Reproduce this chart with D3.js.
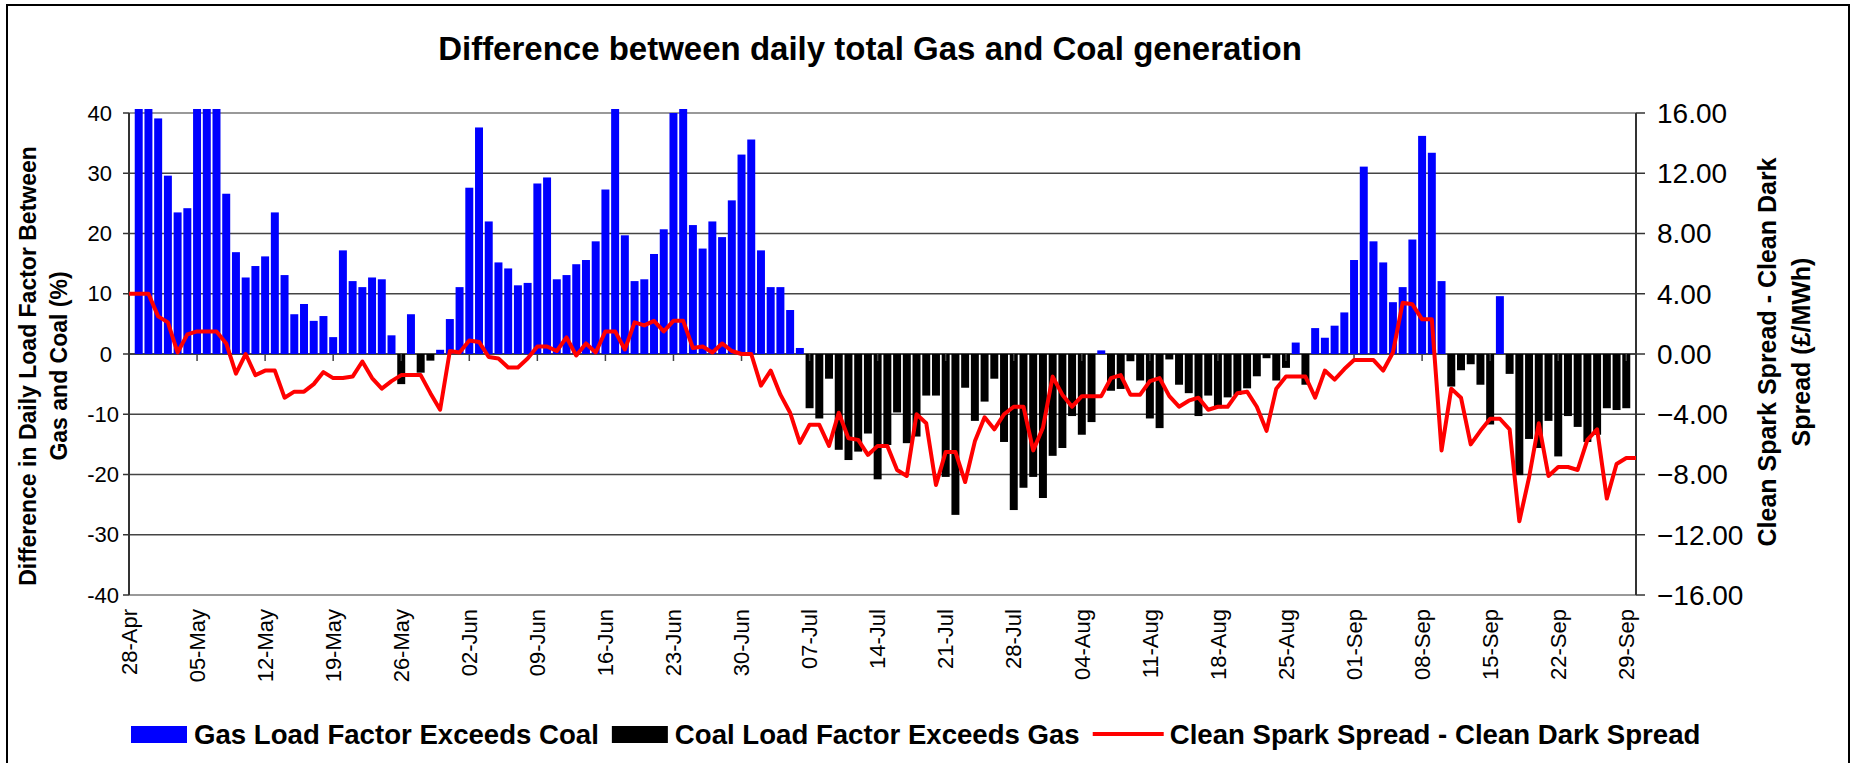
<!DOCTYPE html>
<html>
<head>
<meta charset="utf-8">
<script src="https://cdn.jsdelivr.net/npm/d3@7"></script>
<style>
  body { margin: 0; background: #fff; }
  svg { font-family: "Liberation Sans", Arial, sans-serif; }
</style>
</head>
<body>
<svg id="chart"></svg>
<script>
// tick labels along the date axis (one every 7 days)
const tickLabels = ["28-Apr", "05-May", "12-May", "19-May", "26-May", "02-Jun", "09-Jun",
    "16-Jun", "23-Jun", "30-Jun", "07-Jul", "14-Jul", "21-Jul", "28-Jul", "04-Aug",
    "11-Aug", "18-Aug", "25-Aug", "01-Sep", "08-Sep", "15-Sep", "22-Sep", "29-Sep"];

// gas load factor minus coal load factor (%), one value per day from 29-Apr to 29-Sep
const loadFactorDiff = [
    45, 45, 39.1, 29.6, 23.5, 24.2, 45, 45, 45, 26.6,
    16.9, 12.7, 14.6, 16.2, 23.5, 13.1, 6.6, 8.3, 5.5, 6.3,
    2.8, 17.2, 12.1, 11.1, 12.7, 12.4, 3.1, -5.0, 6.6, -3.1,
    -1.1, 0.7, 5.8, 11.1, 27.6, 37.6, 22.0, 15.2, 14.2, 11.4,
    11.8, 28.3, 29.3, 12.4, 13.1, 14.9, 15.6, 18.7, 27.3, 45,
    19.7, 12.1, 12.4, 16.6, 20.7, 40.0, 45, 21.4, 17.5, 22.0,
    19.4, 25.5, 33.1, 35.6, 17.2, 11.1, 11.1, 7.3, 1.0, -9.0,
    -10.7, -4.1, -15.9, -17.6, -16.2, -13.2, -20.8, -15.1, -9.7, -14.8,
    -13.7, -6.9, -6.9, -20.4, -26.7, -5.6, -11.1, -7.9, -4.1, -14.6,
    -25.9, -22.2, -20.4, -23.9, -16.9, -15.6, -10.3, -13.4, -11.3, 0.6,
    -6.1, -5.8, -1.2, -4.4, -10.7, -12.3, -0.9, -5.1, -6.5, -10.3,
    -6.9, -9.0, -7.2, -6.8, -5.7, -3.7, -0.7, -4.4, -2.3, 1.9,
    -5.1, 4.3, 2.7, 4.7, 6.9, 15.6, 31.1, 18.7, 15.2, 8.6,
    11.1, 19.0, 36.2, 33.4, 12.1, -5.4, -2.7, -1.7, -5.1, -11.7,
    9.6, -3.3, -20.1, -14.1, -15.6, -11.1, -17.0, -10.3, -12.1, -14.6,
    -13.4, -9.0, -9.3, -9.0
];

// clean spark spread minus clean dark spread (£/MWh), one value per day from 28-Apr to 30-Sep
const spreadDiff = [
    4.0, 4.0, 4.0, 2.5, 2.1, 0.1, 1.3, 1.5, 1.5, 1.5,
    0.7, -1.3, 0.0, -1.4, -1.1, -1.1, -2.9, -2.5, -2.5, -2.0,
    -1.2, -1.6, -1.6, -1.5, -0.5, -1.6, -2.3, -1.8, -1.4, -1.4,
    -1.4, -2.6, -3.7, 0.2, 0.1, 0.9, 0.8, -0.2, -0.3, -0.9,
    -0.9, -0.3, 0.5, 0.5, 0.2, 1.1, -0.1, 0.7, 0.1, 1.5,
    1.5, 0.3, 2.1, 1.9, 2.2, 1.5, 2.2, 2.2, 0.4, 0.5,
    0.1, 0.7, 0.2, 0.0, 0.0, -2.1, -1.1, -2.7, -3.9, -5.9,
    -4.7, -4.7, -6.1, -3.9, -5.6, -5.7, -6.7, -6.1, -6.1, -7.7,
    -8.1, -4.0, -4.6, -8.7, -6.5, -6.5, -8.5, -5.8, -4.2, -5.0,
    -4.0, -3.5, -3.5, -6.4, -4.9, -1.5, -2.7, -3.5, -2.8, -2.8,
    -2.8, -1.6, -1.4, -2.7, -2.7, -1.8, -1.6, -2.8, -3.5, -3.1,
    -2.9, -3.7, -3.5, -3.5, -2.6, -2.5, -3.5, -5.1, -2.3, -1.5,
    -1.5, -1.5, -2.9, -1.1, -1.7, -1.0, -0.4, -0.4, -0.4, -1.1,
    0.1, 3.4, 3.3, 2.3, 2.3, -6.4, -2.3, -2.9, -6.0, -5.1,
    -4.3, -4.3, -5.0, -11.1, -8.2, -4.6, -8.1, -7.5, -7.5, -7.7,
    -5.7, -5.0, -9.6, -7.3, -6.9, -6.9
];

const legendItems = ["Gas Load Factor Exceeds Coal", "Coal Load Factor Exceeds Gas",
    "Clean Spark Spread - Clean Dark Spread"];

const W = 1856, H = 763;
const plot = {left: 129, right: 1636, top: 113, bottom: 595};

const svg = d3.select("#chart")
    .attr("width", W)
    .attr("height", H);

// chart area frame
svg.append("rect")
    .attr("x", 7).attr("y", 5)
    .attr("width", 1842).attr("height", 780)
    .attr("fill", "none")
    .attr("stroke", "#000")
    .attr("stroke-width", 2);

// x: day offset from 28-Apr
const x = d3.scaleLinear().domain([0, 155]).range([plot.left, plot.right]);
const y = d3.scaleLinear().domain([-40, 40]).range([plot.bottom, plot.top]);
const y2 = d3.scaleLinear().domain([-16, 16]).range([plot.bottom, plot.top]);
const step = x(1) - x(0);

// gridlines
svg.append("g")
    .selectAll("line")
    .data(d3.range(-30, 40, 10))
    .join("line")
    .attr("x1", plot.left).attr("x2", plot.right)
    .attr("y1", d => y(d)).attr("y2", d => y(d))
    .attr("stroke", "#444")
    .attr("stroke-width", d => d === 0 ? 2 : 1.5);

// top and bottom plot edges
svg.append("g")
    .selectAll("line")
    .data([40, -40])
    .join("line")
    .attr("x1", plot.left).attr("x2", plot.right)
    .attr("y1", d => y(d)).attr("y2", d => y(d))
    .attr("stroke", "#999")
    .attr("stroke-width", 2);

// bars clipped a little above the 40 line like the original
svg.append("clipPath").attr("id", "clip")
    .append("rect")
    .attr("x", plot.left).attr("y", y(40) - 4)
    .attr("width", plot.right - plot.left)
    .attr("height", plot.bottom - y(40) + 4);

svg.append("g")
    .attr("clip-path", "url(#clip)")
    .selectAll("rect")
    .data(loadFactorDiff)
    .join("rect")
    .attr("x", (d, i) => x(i + 1) - step * 0.41)
    .attr("width", step * 0.82)
    .attr("y", d => y(Math.max(0, d)))
    .attr("height", d => Math.abs(y(d) - y(0)))
    .attr("fill", d => d >= 0 ? "#0000ff" : "#000000");

// x ticks at the zero line
svg.append("g")
    .selectAll("line")
    .data(tickLabels)
    .join("line")
    .attr("x1", (d, i) => x(i * 7)).attr("x2", (d, i) => x(i * 7))
    .attr("y1", y(0)).attr("y2", y(0) + 7)
    .attr("stroke", "#444")
    .attr("stroke-width", 1.5);

// x labels at the bottom
svg.append("g")
    .selectAll("text")
    .data(tickLabels)
    .join("text")
    .attr("transform", (d, i) => `translate(${x(i * 7)},${plot.bottom + 14}) rotate(-90)`)
    .attr("dy", "0.35em")
    .attr("text-anchor", "end")
    .style("font-size", "22px")
    .text(d => d);

// left axis
svg.append("line")
    .attr("x1", plot.left).attr("x2", plot.left)
    .attr("y1", plot.top).attr("y2", plot.bottom)
    .attr("stroke", "#333").attr("stroke-width", 2);

svg.append("g")
    .selectAll("line")
    .data(d3.range(-40, 50, 10))
    .join("line")
    .attr("x1", plot.left - 6).attr("x2", plot.left)
    .attr("y1", d => y(d)).attr("y2", d => y(d))
    .attr("stroke", "#333").attr("stroke-width", 1.5);

svg.append("g")
    .selectAll("text")
    .data(d3.range(-40, 50, 10))
    .join("text")
    .attr("x", d => d < 0 ? plot.left - 10 : plot.left - 17)
    .attr("y", d => y(d))
    .attr("dy", "0.35em")
    .attr("text-anchor", "end")
    .style("font-size", "22px")
    .text(d => d);

// right axis
svg.append("line")
    .attr("x1", plot.right).attr("x2", plot.right)
    .attr("y1", plot.top).attr("y2", plot.bottom)
    .attr("stroke", "#333").attr("stroke-width", 2);

svg.append("g")
    .selectAll("line")
    .data(d3.range(-16, 20, 4))
    .join("line")
    .attr("x1", plot.right).attr("x2", plot.right + 9)
    .attr("y1", d => y2(d)).attr("y2", d => y2(d))
    .attr("stroke", "#333").attr("stroke-width", 1.5);

svg.append("g")
    .selectAll("text")
    .data(d3.range(-16, 20, 4))
    .join("text")
    .attr("x", plot.right + 21)
    .attr("y", d => y2(d))
    .attr("dy", "0.35em")
    .style("font-size", "28px")
    .text(d => d3.format(".2f")(d));

// spread line on the secondary axis
const line = d3.line()
    .x((d, i) => x(i))
    .y(d => y2(d));

svg.append("path")
    .datum(spreadDiff)
    .attr("d", line)
    .attr("fill", "none")
    .attr("stroke", "#ff0000")
    .attr("stroke-width", 4)
    .attr("stroke-linejoin", "round");

// title
svg.append("text")
    .attr("x", 870)
    .attr("y", 60)
    .attr("text-anchor", "middle")
    .style("font-size", "33px")
    .style("font-weight", "bold")
    .text("Difference between daily total Gas and Coal generation");

// left axis title
const leftTitle = svg.append("text")
    .attr("transform", "translate(36,366) rotate(-90)")
    .attr("text-anchor", "middle")
    .style("font-size", "23px")
    .style("font-weight", "bold");
leftTitle.append("tspan").attr("x", 0).attr("dy", 0).text("Difference in Daily Load Factor Between");
leftTitle.append("tspan").attr("x", 0).attr("dy", 31).text("Gas and Coal (%)");

// right axis title
const rightTitle = svg.append("text")
    .attr("transform", "translate(1776,352) rotate(-90)")
    .attr("text-anchor", "middle")
    .style("font-size", "25px")
    .style("font-weight", "bold");
rightTitle.append("tspan").attr("x", 0).attr("dy", 0).text("Clean Spark Spread - Clean Dark");
rightTitle.append("tspan").attr("x", 0).attr("dy", 34).text("Spread (£/MWh)");

// legend
const legend = svg.append("g").attr("transform", "translate(131,734)");
let lx = 0;
legendItems.forEach((name, i) => {
    if (i < 2) {
        legend.append("rect")
            .attr("x", lx).attr("y", -8)
            .attr("width", 56).attr("height", 17)
            .attr("fill", i === 0 ? "#0000ff" : "#000000");
        lx += 63;
    } else {
        legend.append("line")
            .attr("x1", lx).attr("x2", lx + 71)
            .attr("y1", 0).attr("y2", 0)
            .attr("stroke", "#ff0000").attr("stroke-width", 4);
        lx += 77;
    }
    const t = legend.append("text")
        .attr("x", lx).attr("y", 0)
        .attr("dy", "0.35em")
        .style("font-size", "27.6px")
        .style("font-weight", "bold")
        .text(name);
    lx += t.node().getComputedTextLength() + 13;
});
</script>
</body>
</html>
